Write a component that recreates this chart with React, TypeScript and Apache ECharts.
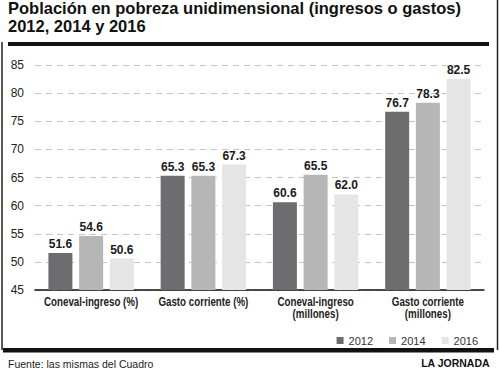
import React, { useEffect, useRef } from "react";
import * as echarts from "echarts";

const categories = [
  "Coneval-ingreso (%)",
  "Gasto corriente (%)",
  "Coneval-ingreso\n(millones)",
  "Gasto corriente\n(millones)",
];
const seriesNames = ["2012", "2014", "2016"];
const values2012 = [51.6, 65.3, 60.6, 76.7];
const values2014 = [54.6, 65.3, 65.5, 78.3];
const values2016 = [50.6, 67.3, 62.0, 82.5];
const colors = ["#6d6d6f", "#b6b6b6", "#e5e5e5"];
const titleText = "Población en pobreza unidimensional (ingresos o gastos)\n2012, 2014 y 2016";
const sourceText = "Fuente: las mismas del Cuadro";
const brandText = "LA JORNADA";

const SANS = "'Liberation Sans', Arial, Helvetica, sans-serif";

export default function App() {
  const ref = useRef<HTMLDivElement>(null);
  useEffect(() => {
    if (!ref.current) return;
    const chart = echarts.init(ref.current, null, { renderer: "svg" });
    const allValues = [values2012, values2014, values2016];
    const frame = [
      { type: "rect", shape: { x: 8, y: 42, width: 481, height: 4 }, style: { fill: "#111" } },
      { type: "rect", shape: { x: 3, y: 348, width: 491, height: 4.5 }, style: { fill: "#111" } },
      { type: "line", shape: { x1: 2, y1: 42, x2: 2, y2: 350 }, style: { stroke: "#222", lineWidth: 1.5 } },
      { type: "line", shape: { x1: 497.5, y1: 0, x2: 497.5, y2: 350 }, style: { stroke: "#222", lineWidth: 1.5 } },
      {
        type: "text",
        left: 8,
        top: 358,
        style: { text: sourceText, font: `10.5px ${SANS}`, fill: "#222" },
      },
      {
        type: "text",
        right: 10,
        top: 357,
        style: { text: brandText, font: `bold 10.5px ${SANS}`, fill: "#111" },
      },
    ];
    chart.setOption({
      animation: false,
      backgroundColor: "#ffffff",
      title: {
        text: titleText,
        left: 8,
        top: -1,
        padding: 0,
        textStyle: {
          fontFamily: SANS,
          fontWeight: "bold",
          fontSize: 16.5,
          lineHeight: 18,
          color: "#111",
        },
      },
      legend: {
        data: seriesNames,
        right: 17,
        top: 330,
        itemWidth: 7,
        itemHeight: 7,
        itemGap: 16,
        icon: "rect",
        textStyle: { fontFamily: SANS, fontSize: 11, color: "#333" },
      },
      grid: { left: 35, right: 16, top: 65, bottom: 78, containLabel: false },
      xAxis: {
        type: "category",
        data: categories,
        axisTick: { show: false },
        axisLine: { lineStyle: { color: "#111", width: 1.5 } },
        axisLabel: { show: false },
      },
      yAxis: {
        type: "value",
        min: 45,
        max: 85,
        interval: 5,
        axisLine: { show: false },
        axisTick: { show: false },
        axisLabel: {
          margin: 11,
          fontFamily: SANS,
          fontSize: 12,
          color: "#222",
        },
        splitLine: {
          lineStyle: { color: "#c4c4c4", type: [6, 5], width: 1 },
        },
      },
      series: seriesNames.map((name, i) => ({
        name,
        type: "bar",
        data: allValues[i],
        barWidth: 24,
        barGap: "28%",
        itemStyle: { color: colors[i] },
        label: {
          show: true,
          position: "top",
          distance: 3,
          formatter: (p: any) => Number(p.value).toFixed(1),
          fontFamily: SANS,
          fontWeight: "bold",
          fontSize: 12,
          color: "#1a1a1a",
        },
      })),
      graphic: frame,
    });
    // condensed category labels placed via the axis scale
    const baseY = chart.convertToPixel({ yAxisIndex: 0 }, 45) as number;
    const catLabels = categories.map((c, i) => {
      const x = chart.convertToPixel({ xAxisIndex: 0 }, c) as number;
      return {
        type: "text",
        id: "cat" + i,
        x,
        y: baseY + 5.5,
        scaleX: 0.75,
        style: {
          text: c,
          font: `bold 13px ${SANS}`,
          lineHeight: 12,
          fill: "#222",
          align: "center",
          verticalAlign: "top",
        },
      };
    });
    chart.setOption({ graphic: [...frame, ...catLabels] });
    return () => chart.dispose();
  }, []);
  return (
    <div
      ref={ref}
      style={{ position: "fixed", left: 0, top: 0, width: 500, height: 368, background: "#fff" }}
    />
  );
}
